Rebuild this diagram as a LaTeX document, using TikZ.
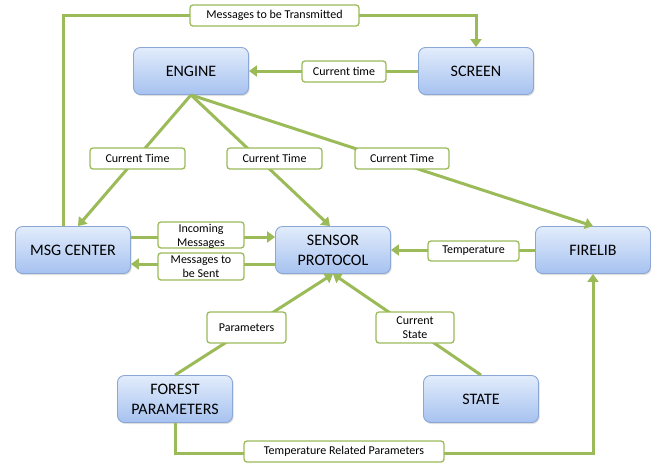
\documentclass[tikz,border=0pt]{standalone}
\usepackage{fontspec}
\setmainfont{Carlito}
\usetikzlibrary{arrows.meta,shadows}
\definecolor{boxtop}{HTML}{E2ECFB}
\definecolor{boxbot}{HTML}{A6C2F0}
\definecolor{boxline}{HTML}{8BA7D6}
\definecolor{grn}{HTML}{9BBB59}
\tikzset{
  blk/.style={draw=boxline, line width=0.9pt, rounded corners=7pt,
    top color=boxtop, bottom color=boxbot, minimum width=115pt, minimum height=47pt,
    inner sep=0pt, align=center, font=\fontsize{16}{20}\selectfont,
    drop shadow={opacity=0.25, shadow xshift=1.2pt, shadow yshift=-1.5pt}},
  lbl/.style={draw=grn, fill=white, line width=1.3pt, rounded corners=3pt,
    inner sep=0pt, align=center, font=\fontsize{12}{14}\selectfont},
  arr/.style={draw=grn, line width=3pt, -{Triangle[length=8pt,width=11pt]}},
  ln/.style={draw=grn, line width=3pt}
}
\begin{document}
\begin{tikzpicture}[x=1pt,y=-1pt]
\useasboundingbox (0,0) rectangle (651,475);
% blocks
\node[blk] (engine) at (191,71) {ENGINE};
\node[blk] (screen) at (476,71) {SCREEN};
\node[blk] (msg) at (73,250) {MSG CENTER};
\node[blk] (sensor) at (333,250) {SENSOR\\PROTOCOL};
\node[blk] (fire) at (593,250) {FIRELIB};
\node[blk] (forest) at (175,399) {FOREST\\PARAMETERS};
\node[blk] (state) at (481,399) {STATE};
% corner coordinates
\coordinate (tl) at (63,15);
\coordinate (tr) at (476,15);
\coordinate (br) at (593,453);
% connectors
\draw[arr] (msg.north -| tl) -- (tl) -- (tr) -- (screen.north);
\draw[arr] (screen.west) -- (engine.east);
\draw[arr] (engine.south) -- ([xshift=5pt]msg.north);
\draw[arr] (engine.south) -- ([xshift=-3pt]sensor.north);
\draw[arr] (engine.south) -- (fire.north);
\draw[arr] ([yshift=13pt]msg.east) -- ([yshift=13pt]sensor.west);
\draw[arr] ([yshift=-14pt]sensor.west) -- ([yshift=-14pt]msg.east);
\draw[arr] (fire.west) -- (sensor.east);
\draw[arr] (forest.north) -- (sensor.south);
\draw[arr] (state.north) -- (sensor.south);
\draw[arr] (forest.south) |- (br) -- (fire.south);
% labels
\node[lbl, minimum width=169pt, minimum height=21pt] (l1) at (274.5,15.5) {Messages to be Transmitted};
\node[lbl, minimum width=84pt, minimum height=21pt] (l2) at (344,71.5) {Current time};
\node[lbl, minimum width=95pt, minimum height=21pt] (l3) at (137.5,158.5) {Current Time};
\node[lbl, minimum width=95pt, minimum height=21pt] (l4) at (274.5,158.5) {Current Time};
\node[lbl, minimum width=94pt, minimum height=21pt] (l5) at (402,158.5) {Current Time};
\node[lbl, minimum width=86pt, minimum height=26pt, text depth=0pt] (l6) at (201,235) {Incoming\\Messages};
\node[lbl, minimum width=86pt, minimum height=27pt] (l7) at (201,266.5) {Messages to\\be Sent};
\node[lbl, minimum width=91pt, minimum height=20pt] (l8) at (473.5,251) {Temperature};
\node[lbl, minimum width=79pt, minimum height=31pt] (l9) at (246.5,327.5) {Parameters};
\node[lbl, minimum width=78pt, minimum height=31pt] (l10) at (415,327.5) {Current\\State};
\node[lbl, minimum width=200pt, minimum height=21pt] (l11) at (344,451.5) {Temperature Related Parameters};
\end{tikzpicture}
\end{document}
